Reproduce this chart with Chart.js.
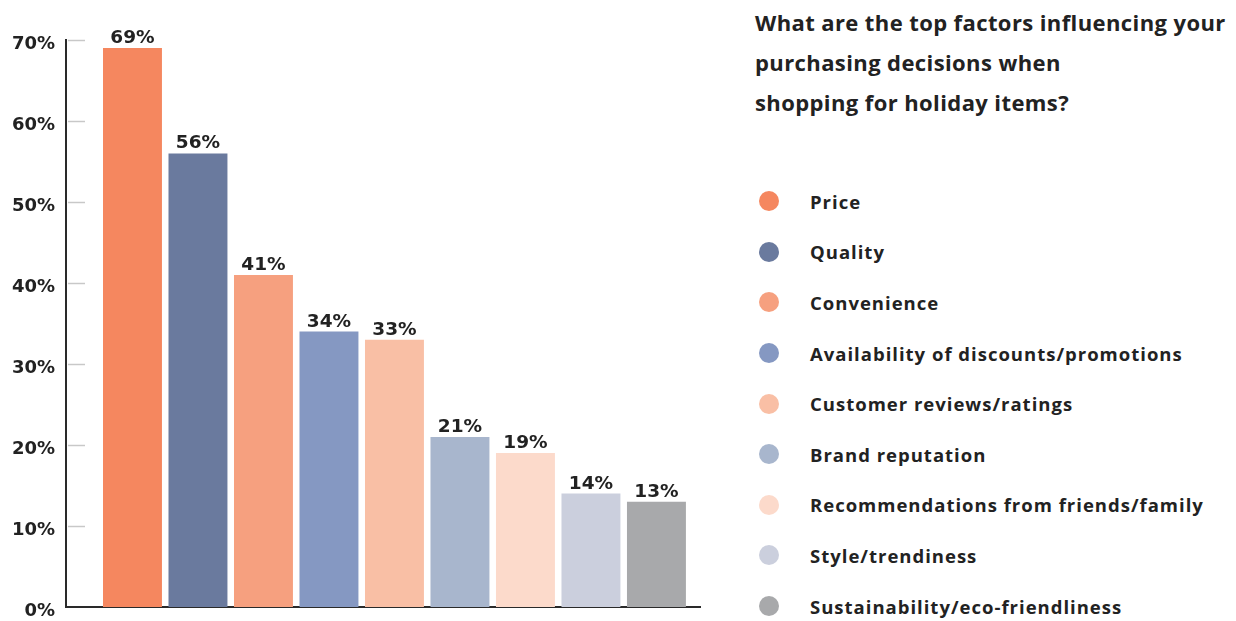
<!DOCTYPE html>
<html>
<head>
<meta charset="utf-8">
<script src="https://cdn.jsdelivr.net/npm/chart.js@4.4.0/dist/chart.umd.min.js"></script>
<style>
  body { margin: 0; background: #fff; font-family: "Open Sans", sans-serif; color: #222; }
  #wrap { position: relative; width: 1236px; height: 621px; overflow: hidden; }
  #chartBox { position: absolute; left: 0; top: 0; width: 740px; height: 621px; }
  #side { position: absolute; left: 755px; top: 2px; width: 481px; }
  #title { font-weight: 700; font-size: 22px; letter-spacing: 0.4px; line-height: 40px; margin: 0; }
  #legend { list-style: none; margin: 0; padding: 0; position: absolute; top: 174px; left: 0; }
  #legend li { height: 50.6px; display: flex; align-items: center; font-weight: 700; font-size: 18.5px; letter-spacing: 1px; white-space: nowrap; }
  .dot { width: 20px; height: 20px; border-radius: 50%; margin-left: 4px; margin-right: 31px; flex: none; }
</style>
</head>
<body>
<div id="wrap">
  <div id="chartBox"><canvas id="FactorsChart" width="740" height="621"></canvas></div>
  <div id="side">
    <h2 id="title">What are the top factors influencing your<br>purchasing decisions when<br>shopping for holiday items?</h2>
    <ul id="legend"></ul>
  </div>
</div>
<script>
// Survey answers, one bar per factor
const categories = [
    'Price',
    'Quality',
    'Convenience',
    'Availability of discounts/promotions',
    'Customer reviews/ratings',
    'Brand reputation',
    'Recommendations from friends/family',
    'Style/trendiness',
    'Sustainability/eco-friendliness'
];
const values = [69, 56, 41, 34, 33, 21, 19, 14, 13];
const barColors = ['#F5875F', '#6A7A9E', '#F6A07F', '#8598C2', '#F9BFA5', '#A8B6CD', '#FCDACB', '#CBCFDD', '#A8A9AB'];
const yTicks = [0, 10, 20, 30, 40, 50, 60, 70];

const numberFont = '"DejaVu Sans", sans-serif';

// Legend list on the right
const legendList = document.getElementById('legend');
categories.forEach((name, i) => {
    legendList.insertAdjacentHTML('beforeend',
        `<li><span class="dot" style="background:${barColors[i]}"></span>${name}</li>`);
});

// Short grey tick marks inside the plot + value labels above bars
const barDecor = {
    id: 'barDecor',
    beforeDatasetsDraw(chart) {
        const ctx = chart.ctx;
        const yScale = chart.scales.y;
        const left = chart.chartArea.left;
        ctx.save();
        ctx.strokeStyle = '#c8c8c8';
        ctx.lineWidth = 1.5;
        yTicks.forEach(t => {
            if (t === 0) return;
            const y = Math.round(yScale.getPixelForValue(t)) + 0.5;
            ctx.beginPath();
            ctx.moveTo(left + 2, y);
            ctx.lineTo(left + 19, y);
            ctx.stroke();
        });
        ctx.restore();
    },
    afterDatasetsDraw(chart) {
        const ctx = chart.ctx;
        const meta = chart.getDatasetMeta(0);
        ctx.save();
        ctx.font = 'bold 18.5px ' + numberFont;
        ctx.fillStyle = '#222';
        ctx.textAlign = 'center';
        ctx.textBaseline = 'alphabetic';
        meta.data.forEach((bar, i) => {
            ctx.fillText(values[i] + '%', bar.x, bar.y - 5);
        });
        ctx.restore();
    }
};

const ctx = document.getElementById('FactorsChart');
new Chart(ctx, {
    type: 'bar',
    data: {
        datasets: [{
            data: values.map((v, i) => ({ x: i, y: v })),
            backgroundColor: barColors,
            barPercentage: 0.9,
            categoryPercentage: 1
        }]
    },
    options: {
        responsive: false,
        animation: false,
        devicePixelRatio: 1,
        layout: { padding: { top: 40, right: 40, bottom: 6, left: 0 } },
        plugins: {
            legend: { display: false },
            tooltip: { enabled: false }
        },
        scales: {
            x: {
                type: 'linear',
                offset: false,
                min: -1.015,
                max: 8.665,
                ticks: { display: false },
                grid: { display: false },
                border: { display: true, color: '#2a2a2a', width: 2 }
            },
            y: {
                min: 0,
                max: 70,
                afterBuildTicks: scale => { scale.ticks = yTicks.map(v => ({ value: v })); },
                afterFit: scale => { scale.width = 66; },
                ticks: {
                    callback: v => v + '%',
                    color: '#222',
                    font: { family: numberFont, size: 18, weight: 'bold' },
                    padding: 3,
                    labelOffset: 4
                },
                grid: { display: false },
                border: { display: true, color: '#2a2a2a', width: 2 }
            }
        }
    },
    plugins: [barDecor]
});
</script>
</body>
</html>
